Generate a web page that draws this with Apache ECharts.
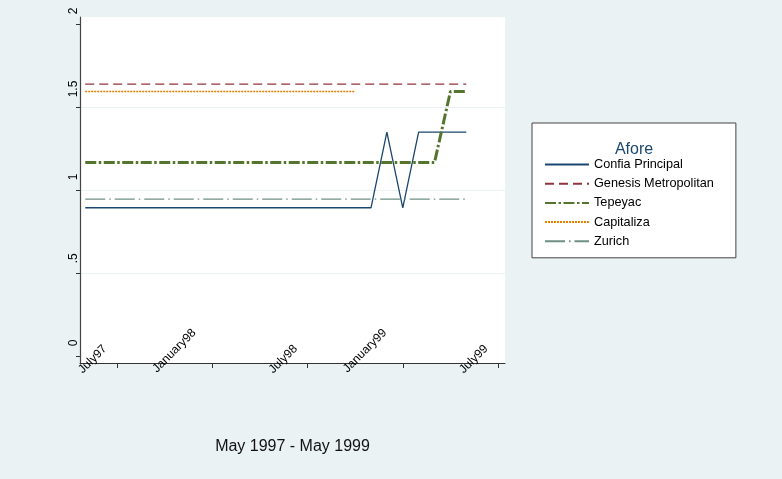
<!DOCTYPE html>
<html>
<head>
<meta charset="utf-8">
<script src="https://cdn.jsdelivr.net/npm/echarts@6/dist/echarts.min.js"></script>
<style>
  html, body { margin: 0; padding: 0; background: #eaf2f3; }
  #chart { width: 782px; height: 479px; }
</style>
</head>
<body>
<div id="chart"></div>
<script>
// Monthly observations, May 1997 to May 1999 (x = month index from May 1997)
const months = [
  '1997-05', '1997-06', '1997-07', '1997-08', '1997-09', '1997-10', '1997-11', '1997-12',
  '1998-01', '1998-02', '1998-03', '1998-04', '1998-05', '1998-06', '1998-07', '1998-08',
  '1998-09', '1998-10', '1998-11', '1998-12', '1999-01', '1999-02', '1999-03', '1999-04', '1999-05'
];

const confiaPrincipal = [
  0.895, 0.895, 0.895, 0.895, 0.895, 0.895, 0.895, 0.895,
  0.895, 0.895, 0.895, 0.895, 0.895, 0.895, 0.895, 0.895,
  0.895, 0.895, 0.895, 1.35, 0.895, 1.35, 1.35, 1.35, 1.35
];
const genesisMetropolitan = [
  1.64, 1.64, 1.64, 1.64, 1.64, 1.64, 1.64, 1.64,
  1.64, 1.64, 1.64, 1.64, 1.64, 1.64, 1.64, 1.64,
  1.64, 1.64, 1.64, 1.64, 1.64, 1.64, 1.64, 1.64, 1.64
];
const tepeyac = [
  1.167, 1.167, 1.167, 1.167, 1.167, 1.167, 1.167, 1.167,
  1.167, 1.167, 1.167, 1.167, 1.167, 1.167, 1.167, 1.167,
  1.167, 1.167, 1.167, 1.167, 1.167, 1.167, 1.167, 1.595, 1.595
];
const capitaliza = [
  1.595, 1.595, 1.595, 1.595, 1.595, 1.595, 1.595, 1.595,
  1.595, 1.595, 1.595, 1.595, 1.595, 1.595, 1.595, 1.595,
  1.595, 1.595, null, null, null, null, null, null, null
];
const zurich = [
  0.947, 0.947, 0.947, 0.947, 0.947, 0.947, 0.947, 0.947,
  0.947, 0.947, 0.947, 0.947, 0.947, 0.947, 0.947, 0.947,
  0.947, 0.947, 0.947, 0.947, 0.947, 0.947, 0.947, 0.947, 0.947
];

// Axis ticks and labels
const xTickMonths = [2, 8, 14, 20, 26];
const xTickLabels = ['July97', 'January98', 'July98', 'January99', 'July99'];
const yTickValues = [0, 0.5, 1, 1.5, 2];
const yTickLabels = ['0', '.5', '1', '1.5', '2'];

const FONT = '"Liberation Sans", Arial, Helvetica, sans-serif';
const X_MIN = -0.33, X_MAX = 26.44;
const PX_PER_MONTH = 425 / (X_MAX - X_MIN);

const toPairs = arr => months.map((m, i) => [i, arr[i]]);
const xLabelFor = v => {
  const k = xTickMonths.indexOf(Math.round(v));
  return k >= 0 ? xTickLabels[k] : '';
};
const yLabelFor = v => {
  const k = yTickValues.findIndex(t => Math.abs(t - v) < 1e-6);
  return k >= 0 ? yTickLabels[k] : '';
};

// Label-only x axes: short (July) and long (January) month names sit at slightly different offsets
function labelAxis(values, shiftPx, margin) {
  const d = shiftPx / PX_PER_MONTH;
  return {
    type: 'value', gridIndex: 0, position: 'bottom',
    min: X_MIN + d, max: X_MAX + d,
    axisLine: { show: false }, axisTick: { show: false }, splitLine: { show: false },
    axisLabel: {
      customValues: values, inside: true, rotate: 45, align: 'right', verticalAlign: 'middle',
      margin: margin, fontSize: 12, color: '#000', fontFamily: FONT, formatter: xLabelFor
    }
  };
}

const lineStyles = [
  { name: 'Confia Principal', data: confiaPrincipal, color: '#1a476f', width: 1.3, type: 'solid' },
  { name: 'Genesis Metropolitan', data: genesisMetropolitan, color: '#90353b', width: 1.3, type: [9, 5] },
  { name: 'Tepeyac', data: tepeyac, color: '#55752f', width: 3, type: [11, 2.5, 2.5, 2.5] },
  { name: 'Capitaliza', data: capitaliza, color: '#e37e00', width: 1.6, type: [2, 1] },
  { name: 'Zurich', data: zurich, color: '#6e8e84', width: 1.3, type: [20, 4, 1.5, 4] }
];

const chart = echarts.init(document.getElementById('chart'), null, { renderer: 'canvas' });
chart.setOption({
  animation: false,
  backgroundColor: '#eaf2f3',
  title: [
    {
      text: 'May 1997 - May 1999', left: 292.5, top: 439, textAlign: 'center', padding: 0,
      textStyle: { fontSize: 16, fontWeight: 'normal', color: '#111', fontFamily: FONT }
    },
    {
      text: 'Afore', left: 634, top: 142, textAlign: 'center', padding: 0, z: 10,
      textStyle: { fontSize: 16, fontWeight: 'normal', color: '#1a476f', fontFamily: FONT }
    }
  ],
  legend: {
    orient: 'vertical', left: 532, top: 123,
    padding: [35, 22, 10, 12],
    backgroundColor: '#ffffff', borderColor: '#444', borderWidth: 1, borderRadius: 0,
    itemWidth: 44, itemHeight: 14, itemGap: 6.2, itemTextGap: 10,
    selectedMode: false,
    itemStyle: { opacity: 0, borderWidth: 0 },
    textStyle: { fontSize: 12.7, color: '#000', fontFamily: FONT },
    data: lineStyles.map(s => s.name)
  },
  grid: {
    left: 80, top: 17, width: 425, height: 346,
    show: true, backgroundColor: '#ffffff', borderWidth: 0
  },
  xAxis: [
    {
      type: 'value', min: X_MIN, max: X_MAX,
      axisLine: { show: true, onZero: false, lineStyle: { color: '#333', width: 1 } },
      axisTick: { show: true, customValues: xTickMonths, length: 5, lineStyle: { color: '#333' } },
      axisLabel: { show: false },
      splitLine: { show: false }
    },
    labelAxis([2, 14, 26], 12, 16),
    labelAxis([8, 20], 18, 32)
  ],
  yAxis: {
    type: 'value', min: -0.04, max: 2.044,
    axisLine: { show: true, onZero: false, lineStyle: { color: '#444', width: 1.2 } },
    axisTick: { show: true, customValues: yTickValues, length: 4, lineStyle: { color: '#333' } },
    axisLabel: {
      customValues: yTickValues, rotate: 90, align: 'left', verticalAlign: 'middle',
      padding: [0, 0, 0, 10], margin: 6, fontSize: 12, color: '#000', fontFamily: FONT,
      formatter: yLabelFor
    },
    splitLine: {
      show: true,
      lineStyle: { color: ['#ffffff', '#eaf2f3', '#eaf2f3', '#eaf2f3', '#ffffff'], width: 1 }
    }
  },
  series: lineStyles.map(s => ({
    name: s.name, type: 'line', xAxisIndex: 0, yAxisIndex: 0,
    data: toPairs(s.data), showSymbol: false, symbol: 'none',
    connectNulls: false,
    itemStyle: { color: s.color },
    lineStyle: { color: s.color, width: s.width, type: s.type, cap: 'butt' },
    emphasis: { disabled: true }
  }))
});
</script>
</body>
</html>
